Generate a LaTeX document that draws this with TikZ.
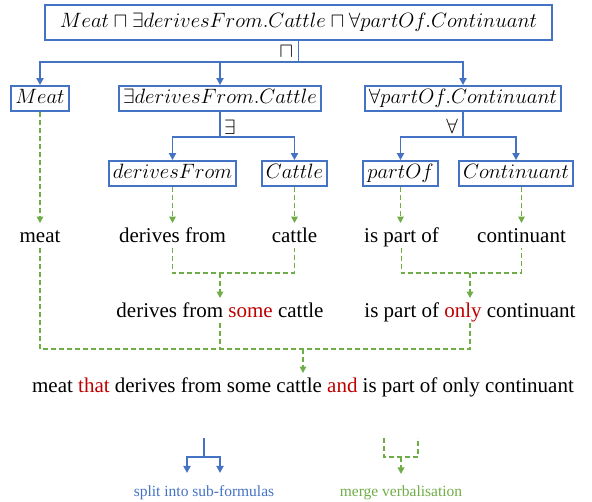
\documentclass[tikz,border=0pt]{standalone}
\usepackage{amssymb}
\usepackage{fontspec}
\setmainfont{Liberation Serif}
\usetikzlibrary{arrows.meta,positioning,calc}
\definecolor{splitblue}{RGB}{68,114,196}
\definecolor{mergegreen}{RGB}{112,173,71}
\definecolor{wordred}{RGB}{192,0,0}
\tikzset{
	concept/.style={draw=splitblue, line width=1.8pt, fill=white,
		inner xsep=4pt, inner ysep=3.5pt, text height=14pt, text depth=4pt,
		font=\fontsize{20.74}{24}\selectfont},
	verbal/.style={inner sep=1pt, text height=15pt, text depth=4.5pt,
		font=\fontsize{21}{25}\selectfont},
	opsym/.style={inner sep=0pt, font=\fontsize{20.74}{23}\selectfont},
	legend text/.style={inner sep=0pt, font=\fontsize{15.5}{18}\selectfont},
	split line/.style={draw=splitblue, line width=1.8pt},
	split/.style={split line, -{Triangle[width=7pt,length=7pt]}},
	merge line/.style={draw=mergegreen, line width=1.6pt, dash pattern=on 5pt off 3pt},
	merge/.style={merge line, shorten >=3pt, -{Triangle[width=6.5pt,length=6.5pt]}}
}
\begin{document}
\begin{tikzpicture}[x=1pt, y=-1pt]
  \useasboundingbox (0,0) rectangle (592,502);
  % formula tree
  \node[concept, inner xsep=15pt, inner ysep=8.5pt] (top) at (298.5,22.5)
      {$Meat \sqcap \exists derivesFrom.Cattle \sqcap \forall partOf.Continuant$};
  \node[concept] (meatF)    at (40,98.5)    {$Meat$};
  \node[concept] (existsF)  at (220,98.5)   {$\exists derivesFrom.Cattle$};
  \node[concept] (forallF)  at (463,98.5)   {$\forall partOf.Continuant$};
  \node[concept] (derivesF) at (172.5,173.5) {$derivesFrom$};
  \node[concept] (cattleF)  at (294.5,173.5) {$Cattle$};
  \node[concept] (partF)    at (400.5,173.5) {$partOf$};
  \node[concept] (contF)    at (516,173.5)   {$Continuant$};
  \coordinate (andFork)    at (top.south |- 0,62);
  \coordinate (existsFork) at (existsF.south |- 0,137);
  \coordinate (forallFork) at (forallF.south |- 0,137);
  \draw[split line] (top.south) -- (andFork);
  \foreach \sub in {meatF,existsF,forallF}
    \draw[split] (andFork) -| (\sub);
  \draw[split line] (existsF.south) -- (existsFork);
  \draw[split] (existsFork) -| (derivesF);
  \draw[split] (existsFork) -| (cattleF);
  \draw[split line] (forallF.south) -- (forallFork);
  \draw[split] (forallFork) -| (partF);
  \draw[split] (forallFork) -| (contF);
  \node[opsym, anchor=east] (andOp)    at ($(andFork)+(-5,-10)$)    {$\sqcap$};
  \node[opsym, anchor=west] (existsOp) at ($(existsFork)+(4,-10)$)  {$\exists$};
  \node[opsym, anchor=east] (forallOp) at ($(forallFork)+(-5,-11)$) {$\forall$};
  % verbalisations
  \node[verbal] (meatV)    at (40,237)    {meat};
  \node[verbal] (derivesV) at (172.5,237) {derives from};
  \node[verbal] (cattleV)  at (294.5,237) {cattle};
  \node[verbal] (partV)    at (401.5,237) {is part of};
  \node[verbal] (contV)    at (521.5,237) {continuant};
  \node[verbal] (someV)    at (220,312) {derives from \textcolor{wordred}{some} cattle};
  \node[verbal] (onlyV)    at (470,312) {is part of \textcolor{wordred}{only} continuant};
  \node[verbal] (finalV)   at (303,387) {meat \textcolor{wordred}{that} derives from some cattle \textcolor{wordred}{and} is part of only continuant};
  \draw[merge] (meatF) -- (meatV);
  \draw[merge] (derivesF) -- (derivesV);
  \draw[merge] (cattleF) -- (cattleV);
  \draw[merge] (partF.south) -- (partF.south |- partV.north);
  \draw[merge] (contV |- contF.south) -- (contV);
  \coordinate (someJoin) at (someV.north |- 0,273);
  \coordinate (onlyJoin) at (onlyV.north |- 0,273);
  \coordinate (finalJoin) at (finalV.north |- 0,349);
  \draw[merge line] (derivesV.south) |- (someJoin) -| (cattleV.south);
  \draw[merge] (someJoin) -- (someV);
  \draw[merge line] (partV.south) |- (onlyJoin) -| (contV.south);
  \draw[merge] (onlyJoin) -- (onlyV);
  \draw[merge line] (meatV.south) |- (onlyV.south |- finalJoin) -- (onlyV.south);
  \draw[merge line] (someV.south) -- (someV.south |- finalJoin);
  \draw[merge] (finalJoin) -- (finalV);
  % legend
  \coordinate (splitStem) at (204,438);
  \coordinate (splitFork) at (204,457);
  \coordinate (splitL) at (187,473);
  \coordinate (splitR) at (220,473);
  \draw[split line] (splitStem) -- (splitFork);
  \draw[split] (splitFork) -| (splitL);
  \draw[split] (splitFork) -| (splitR);
  \node[legend text, text=splitblue] (splitLbl) at (204,493) {split into sub-formulas};
  \coordinate (mergeL) at (384,438);
  \coordinate (mergeR) at (418,438);
  \coordinate (mergeJoin) at (401,457);
  \coordinate (mergeTip) at (401,477);
  \draw[merge line] (mergeL) |- (mergeJoin) -| (mergeR);
  \draw[merge] (mergeJoin) -- (mergeTip);
  \node[legend text, text=mergegreen] (mergeLbl) at (401,493) {merge verbalisation};
\end{tikzpicture}
\end{document}
